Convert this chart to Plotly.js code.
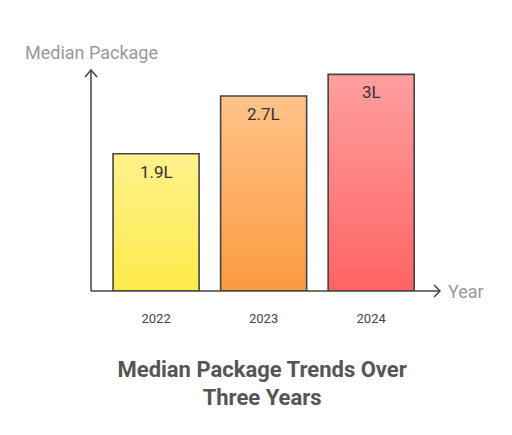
<!DOCTYPE html>
<html>
<head>
<meta charset="utf-8">
<script src="https://cdn.plot.ly/plotly-3.0.1.min.js"></script>
<style>html,body{margin:0;padding:0;background:#fff;}#chart{width:512px;height:435px;}</style>
</head>
<body>
<div id="chart"></div>
<script>
const years = ["2022", "2023", "2024"];
const medianPackage = [1.9, 2.7, 3.0];
const valueLabels = ["1.9L", "2.7L", "3L"];
const topColors = ["#FFF28C", "#FFC38A", "#FF9F9F"];
const bottomColors = ["#FFEA4A", "#FB9B40", "#FF6363"];

const trace = {
  type: "bar",
  x: years,
  y: medianPackage,
  marker: { color: bottomColors, line: { color: "#444444", width: 1.6 } },
  hoverinfo: "skip",
  width: 0.8
};

const axisColor = "#444444";
const shapes = [
  { type: "line", xref: "paper", yref: "paper", x0: 0, x1: 0, y0: 0, y1: 1, line: { color: axisColor, width: 1.5 } },
  { type: "line", xref: "paper", yref: "paper", x0: 0, x1: 1, y0: 0, y1: 0, line: { color: axisColor, width: 1.5 } },
  { type: "path", xref: "paper", yref: "paper", path: "M -0.0172,0.968 L 0,1 L 0.0172,0.968", line: { color: axisColor, width: 1.5 } },
  { type: "path", xref: "paper", yref: "paper", path: "M 0.983,0.0272 L 1,0 L 0.983,-0.0272", line: { color: axisColor, width: 1.5 } }
];

const annotations = years.map((yr, i) => ({
  x: i, y: medianPackage[i], xref: "x", yref: "y",
  text: valueLabels[i], showarrow: false,
  yanchor: "top", yshift: -6,
  font: { family: "Roboto, sans-serif", size: 17, color: "#333333" }
}));
annotations.push({
  x: 0, y: 1.077, xref: "paper", yref: "paper", text: "Median Package",
  showarrow: false, xanchor: "center", yanchor: "middle",
  font: { family: "Roboto, sans-serif", size: 18, color: "#999999" }
});
annotations.push({
  x: 1, y: 0, xref: "paper", yref: "paper", text: "Year",
  showarrow: false, xanchor: "left", yanchor: "middle", xshift: 6,
  font: { family: "Roboto, sans-serif", size: 18, color: "#999999" }
});

const layout = {
  width: 512, height: 435,
  margin: { l: 91, r: 72, t: 70, b: 144, pad: 0 },
  paper_bgcolor: "#ffffff", plot_bgcolor: "#ffffff",
  showlegend: false,
  title: {
    text: "<b>Median Package Trends Over<br>Three Years</b>",
    x: 0.512, xanchor: "center", y: 0.134, yanchor: "middle", yref: "container",
    font: { family: "Roboto, sans-serif", size: 22, color: "#555555" }
  },
  xaxis: {
    type: "category", range: [-0.605, 2.64], showline: false, showgrid: false, zeroline: false,
    ticks: "outside", ticklen: 15, tickcolor: "rgba(0,0,0,0)",
    tickfont: { family: "Roboto, sans-serif", size: 13, color: "#444444" }, fixedrange: true
  },
  yaxis: {
    range: [0, 3.06], showline: false, showgrid: false, zeroline: false,
    showticklabels: false, ticks: "", fixedrange: true
  },
  shapes: shapes,
  annotations: annotations
};

Plotly.newPlot("chart", [trace], layout, { displayModeBar: false, staticPlot: true }).then(() => {
  const svg = document.querySelector("#chart .main-svg");
  const NS = "http://www.w3.org/2000/svg";
  let defs = svg.querySelector("defs");
  if (!defs) { defs = document.createElementNS(NS, "defs"); svg.insertBefore(defs, svg.firstChild); }
  topColors.forEach((c, i) => {
    const g = document.createElementNS(NS, "linearGradient");
    g.setAttribute("id", "barGrad" + i);
    g.setAttribute("x1", "0"); g.setAttribute("y1", "0");
    g.setAttribute("x2", "0"); g.setAttribute("y2", "1");
    const s1 = document.createElementNS(NS, "stop");
    s1.setAttribute("offset", "0"); s1.setAttribute("stop-color", c);
    const s2 = document.createElementNS(NS, "stop");
    s2.setAttribute("offset", "1"); s2.setAttribute("stop-color", bottomColors[i]);
    g.appendChild(s1); g.appendChild(s2); defs.appendChild(g);
  });
  document.querySelectorAll("#chart .trace.bars .point path").forEach((p, i) => {
    p.style.fill = "url(#barGrad" + i + ")";
  });
});
</script>
</body>
</html>
